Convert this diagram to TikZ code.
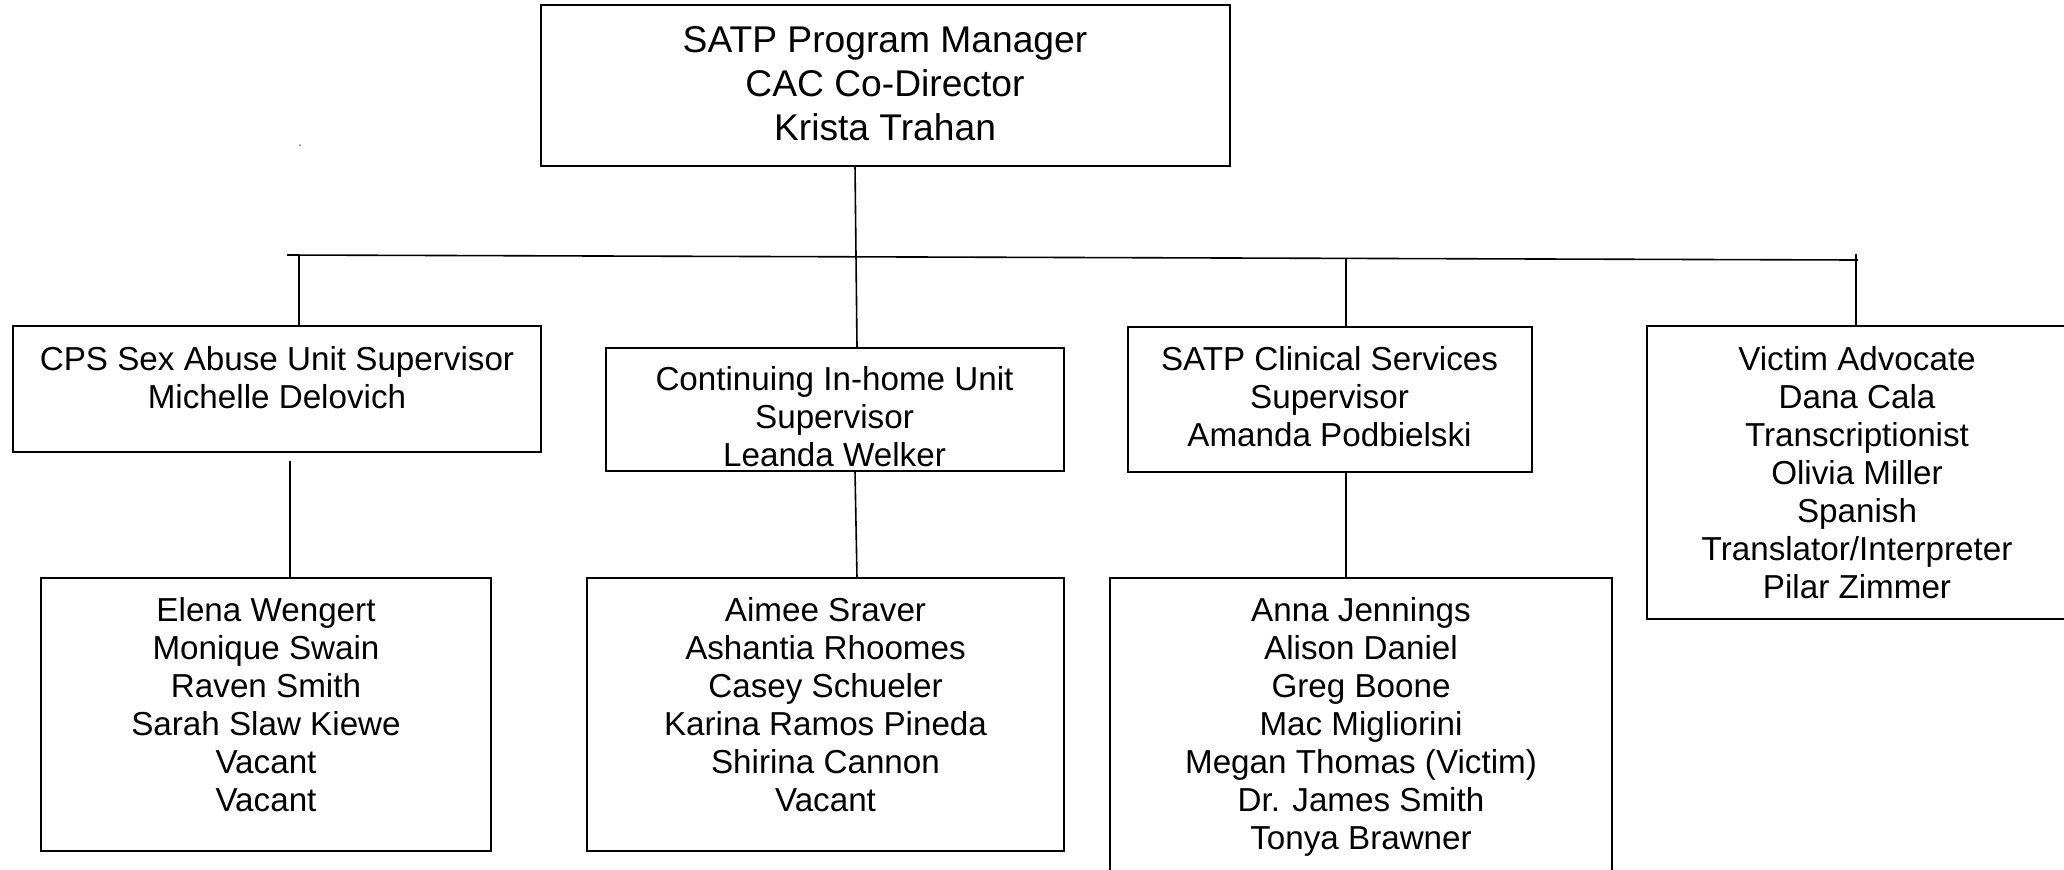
\documentclass[tikz,border=0pt]{standalone}
\usepackage{fontspec}
\setmainfont{Liberation Sans}
\usetikzlibrary{fit}
\begin{document}
\begin{tikzpicture}[x=0.5pt,y=-0.5pt,
  box/.style={draw=black,line width=1pt,inner sep=0pt,fill=none},
  link/.style={draw=black,line width=0.8pt},
  % multi-line texts are placed by the baseline of their last line
  txt/.style={align=center,inner sep=0pt,anchor=base,
    font=\fontsize{16.6}{19}\selectfont},
  bigtxt/.style={align=center,inner sep=0pt,anchor=base,
    font=\fontsize{18.6}{22}\selectfont}]
\useasboundingbox[fill=white] (0,0) rectangle (2064,869);

% boxes
\node[box,fit={(541,5) (1229.5,165.5)}] (top) {};
\node[box,fit={(12.5,326) (541,452)}] (cps) {};
\node[box,fit={(605.5,347.5) (1063.5,471)}] (cont) {};
\node[box,fit={(1128,327) (1531.5,471.5)}] (clin) {};
\node[box,fit={(1647,326) (2080,619)}] (vict) {};
\node[box,fit={(41,578) (491,851)}] (staffa) {};
\node[box,fit={(587,578) (1064,851)}] (staffb) {};
\node[box,fit={(1110,578) (1612,900)}] (staffc) {};

% texts
\node[bigtxt] (toptext) at (885,140.5) {SATP Program Manager\\CAC Co-Director\\Krista Trahan};
\node[txt] (cpstext) at (277,408) {CPS Sex Abuse Unit Supervisor\\Michelle Delovich};
\node[txt] (conttext) at (834.5,466) {Continuing In-home Unit\\Supervisor\\Leanda Welker};
\node[txt] (clintext) at (1329.5,446) {SATP Clinical Services\\Supervisor\\Amanda Podbielski};
\node[txt] (victtext) at (1857,598) {Victim Advocate\\Dana Cala\\Transcriptionist\\Olivia Miller\\Spanish\\Translator/Interpreter\\Pilar Zimmer};
\node[txt] (staffatext) at (266,811) {Elena Wengert\\Monique Swain\\Raven Smith\\Sarah Slaw Kiewe\\Vacant\\Vacant};
\node[txt] (staffbtext) at (825.5,811) {Aimee Sraver\\Ashantia Rhoomes\\Casey Schueler\\Karina Ramos Pineda\\Shirina Cannon\\Vacant};
\node[txt] (staffctext) at (1361,849) {Anna Jennings\\Alison Daniel\\Greg Boone\\Mac Migliorini\\Megan Thomas (Victim)\\Dr. James Smith\\Tonya Brawner};

% bus and branch points
\coordinate (busL) at (287,255);
\coordinate (busR) at (1858,260);
\coordinate (b1) at (299,255.5);
\coordinate (b3) at (1346,258.5);
\coordinate (b4) at (1856,254);
\coordinate (tdown) at (855,165.5);
\coordinate (tcont) at (857,347.5);
\coordinate (cpsdrop) at (290,461);
\coordinate (contdrop) at (855,471);
\coordinate (contend) at (857,578);

% connectors
\draw[link] (busL) -- (busR);
\draw[link] (tdown) -- (tcont);
\draw[link] (b1) -- (b1 |- cps.north);
\draw[link] (b3) -- (b3 |- clin.north);
\draw[link] (b4) -- (b4 |- vict.north);
\draw[link] (cpsdrop) -- (cpsdrop |- staffa.north);
\draw[link] (contdrop) -- (contend);
\draw[link] (clin.south -| b3) -- (staffc.north -| b3);

% small mark
\fill[gray] (300,145) circle (1);
\end{tikzpicture}
\end{document}
